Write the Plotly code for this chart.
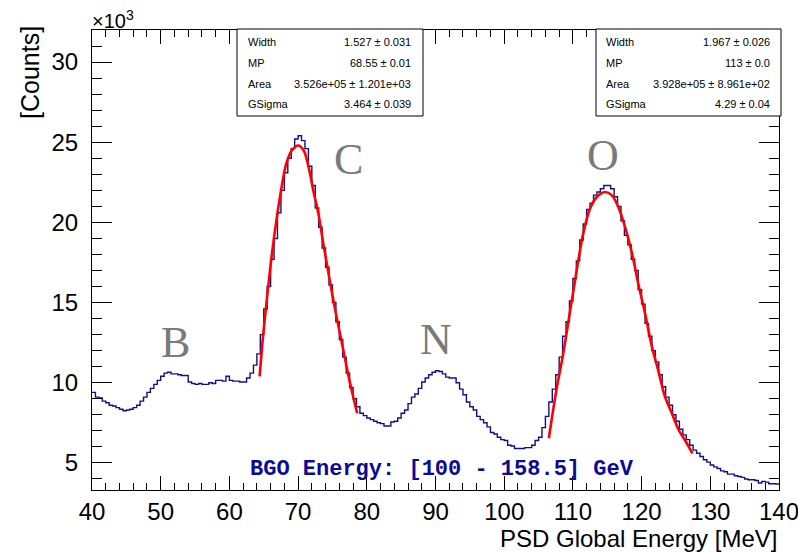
import plotly.graph_objects as go

# ---------------- data ----------------
bin_lo = 40.0
bin_w = 0.5
counts_k = [
    9.4, 9.1, 9.05, 8.85, 8.75, 8.6, 8.55, 8.45, 8.35, 8.25,
    8.3, 8.35, 8.45, 8.6, 8.85, 9.1, 9.4, 9.65, 9.9, 10.15,
    10.4, 10.6, 10.65, 10.55, 10.55, 10.5, 10.45, 10.45, 10.05, 9.95,
    9.9, 9.95, 9.9, 9.9, 10.0, 9.95, 10.15, 10.15, 10.1, 10.4,
    10.15, 10.1, 10.1, 10.05, 10.05, 10.3, 10.6, 11.1, 11.8, 13.0,
    14.6, 16.0, 17.7, 19.0, 20.6, 22.0, 23.1, 24.0, 24.6, 25.2,
    25.4, 25.1, 24.6, 23.5, 22.3, 20.9, 19.7, 18.4, 17.2, 16.1,
    15.0, 13.8, 12.7, 11.6, 10.6, 9.7, 9.0, 8.5, 8.1, 7.95,
    7.8, 7.7, 7.6, 7.5, 7.45, 7.3, 7.3, 7.55, 7.6, 7.8,
    8.1, 8.3, 8.7, 9.1, 9.3, 9.65, 10.05, 10.3, 10.5, 10.65,
    10.75, 10.7, 10.55, 10.35, 10.3, 10.3, 10.0, 9.6, 9.25, 8.8,
    8.5, 8.3, 7.9, 7.7, 7.5, 7.25, 6.9, 6.8, 6.6, 6.45,
    6.4, 6.1, 6.05, 5.9, 5.9, 5.9, 5.95, 5.95, 6.1, 6.4,
    6.6, 7.2, 7.9, 8.8, 9.6, 10.5, 11.6, 12.9, 13.8, 15.1,
    16.5, 17.6, 18.9, 19.9, 20.8, 21.2, 21.7, 21.9, 22.1, 22.3,
    22.3, 22.1, 21.6, 21.0, 20.1, 19.2, 18.6, 17.7, 17.0, 15.8,
    14.9, 13.7, 12.9, 12.0, 11.3, 10.5, 9.75, 9.1, 8.6, 8.0,
    7.6, 7.1, 6.75, 6.45, 6.1, 5.8, 5.6, 5.4, 5.2, 5.05,
    4.87, 4.75, 4.65, 4.5, 4.45, 4.3, 4.3, 4.2, 4.15, 4.1,
    4.0, 3.95, 3.95, 3.9, 3.75, 3.85, 3.8, 3.7, 3.7, 3.68,
]

fitC_x = [64.4, 64.9, 65.4, 66.15, 66.9, 67.6, 68.3, 69.1, 70.0, 70.8,
          71.5, 72.2, 72.95, 73.7, 74.6, 75.6, 76.6, 77.55, 78.6]
fitC_y = [10.4, 12.9, 15.0, 17.9, 20.3, 22.2, 23.7, 24.5, 24.8, 24.5,
          23.5, 22.0, 20.55, 18.6, 16.4, 14.1, 12.0, 10.0, 8.1]

fitO_x = [106.5, 107.6, 108.6, 109.6, 110.55, 111.5, 112.5, 113.5, 114.7, 115.65,
          116.6, 117.6, 118.6, 119.5, 120.5, 121.5, 122.4, 123.4, 124.4, 125.4,
          126.3, 127.4]
fitO_y = [6.54, 9.55, 11.83, 14.5, 17.0, 19.3, 20.87, 21.6, 21.9, 21.7,
          20.97, 19.7, 18.07, 16.2, 14.33, 12.25, 10.8, 9.13, 8.1, 7.05,
          6.43, 5.6]

x_ticks = [40, 50, 60, 70, 80, 90, 100, 110, 120, 130, 140]
y_ticks = [5, 10, 15, 20, 25, 30]

stat_labels = ["Width", "MP", "Area", "GSigma"]
statC_vals = ["1.527 ± 0.031", "68.55 ± 0.01", "3.526e+05 ± 1.201e+03", "3.464 ± 0.039"]
statO_vals = ["1.967 ± 0.026", "113 ± 0.0", "3.928e+05 ± 8.961e+02", "4.29 ± 0.04"]

peak_labels = ["B", "C", "N", "O"]
peak_x = [52.2, 77.3, 90.1, 114.4]
peak_y = [12.5, 23.9, 12.7, 24.2]

bgo_text = "BGO Energy: [100 - 158.5] GeV"

# ---------------- layout geometry ----------------
W, H = 798, 552
L, R, T, B = 92, 19, 30, 62
PW, PH = W - L - R, H - T - B


def px(xp):
    return (xp - L) / PW


def py(yp):
    return (H - B - yp) / PH


edges = [bin_lo + i * bin_w for i in range(len(counts_k) + 1)]
steps_y = counts_k + [counts_k[-1]]

fig = go.Figure()
fig.add_trace(go.Scatter(x=edges, y=steps_y, mode="lines", line_shape="hv",
                         line=dict(color="#10108c", width=1.4), hoverinfo="skip"))
fig.add_trace(go.Scatter(x=fitC_x, y=fitC_y, mode="lines", line_shape="spline",
                         line=dict(color="#ff0000", width=2.6), hoverinfo="skip"))
fig.add_trace(go.Scatter(x=fitO_x, y=fitO_y, mode="lines", line_shape="spline",
                         line=dict(color="#ff0000", width=2.6), hoverinfo="skip"))

tickfont = dict(family="Liberation Sans, Arial, sans-serif", size=24, color="black")

fig.update_layout(
    width=W, height=H,
    margin=dict(l=L, r=R, t=T, b=B, pad=0, autoexpand=False),
    paper_bgcolor="white", plot_bgcolor="white",
    showlegend=False,
    xaxis=dict(range=[40, 140], tickvals=x_ticks, ticks="inside", ticklen=14,
               tickcolor="black", tickwidth=1, showline=True, linecolor="black",
               linewidth=1, mirror="allticks", showgrid=False, zeroline=False,
               tickfont=tickfont, ticklabelstandoff=0, ticklabeloverflow="allow",
               automargin=False,
               minor=dict(dtick=2, ticks="inside", ticklen=7, tickcolor="black", showgrid=False)),
    yaxis=dict(range=[3.31, 32.0], tickvals=y_ticks, ticks="inside", ticklen=20,
               tickcolor="black", tickwidth=1, showline=True, linecolor="black",
               linewidth=1, mirror="allticks", showgrid=False, zeroline=False,
               tickfont=tickfont, ticklabelstandoff=8, automargin=False,
               minor=dict(dtick=1, ticks="inside", ticklen=10, tickcolor="black", showgrid=False)),
)

ann = []
# axis titles
ann.append(dict(text="PSD Global Energy [MeV]", xref="paper", yref="paper",
                x=px(779), y=py(538), xanchor="right", yanchor="middle", showarrow=False,
                font=dict(family="Liberation Sans, Arial, sans-serif", size=24, color="black")))
ann.append(dict(text="[Counts]", xref="paper", yref="paper", textangle=-90,
                x=px(30), y=py(72), xanchor="center", yanchor="middle", showarrow=False,
                font=dict(family="Liberation Sans, Arial, sans-serif", size=25, color="black")))
ann.append(dict(text="×10<sup>3</sup>", xref="paper", yref="paper",
                x=px(90), y=py(19), xanchor="left", yanchor="middle", showarrow=False,
                font=dict(family="Liberation Sans, Arial, sans-serif", size=20, color="black")))

# peak letters
for lab, xv, yv in zip(peak_labels, peak_x, peak_y):
    ann.append(dict(text=lab, x=xv, y=yv, xref="x", yref="y", showarrow=False,
                    xanchor="center", yanchor="middle",
                    font=dict(family="Liberation Serif, Times New Roman, serif", size=44,
                              color="#7a7a7a")))

# BGO energy label
ann.append(dict(text="<b>" + bgo_text + "</b>", x=91.0, y=4.56, xref="x", yref="y",
                showarrow=False, xanchor="center", yanchor="middle",
                font=dict(family="Liberation Mono, Courier New, monospace", size=22,
                          color="#0a0a96")))

# stat boxes
shapes = []
row_px = [42, 63, 84, 104]
for (x0, x1, lab_x, val_x, vals) in [(237, 423, 246, 413, statC_vals),
                                     (596, 781, 604, 772, statO_vals)]:
    shapes.append(dict(type="rect", xref="paper", yref="paper",
                       x0=px(x0), x1=px(x1), y0=py(116), y1=py(29),
                       line=dict(color="black", width=1), fillcolor="white", layer="above"))
    for lab, v, ry in zip(stat_labels, vals, row_px):
        ann.append(dict(text=lab, xref="paper", yref="paper", x=px(lab_x), y=py(ry),
                        xanchor="left", yanchor="middle", showarrow=False,
                        font=dict(family="Liberation Sans, Arial, sans-serif", size=11,
                                  color="black")))
        ann.append(dict(text=v, xref="paper", yref="paper", x=px(val_x), y=py(ry),
                        xanchor="right", yanchor="middle", showarrow=False,
                        font=dict(family="Liberation Sans, Arial, sans-serif", size=11,
                                  color="black")))

fig.update_layout(annotations=ann, shapes=shapes)
fig.write_html("out.html")
